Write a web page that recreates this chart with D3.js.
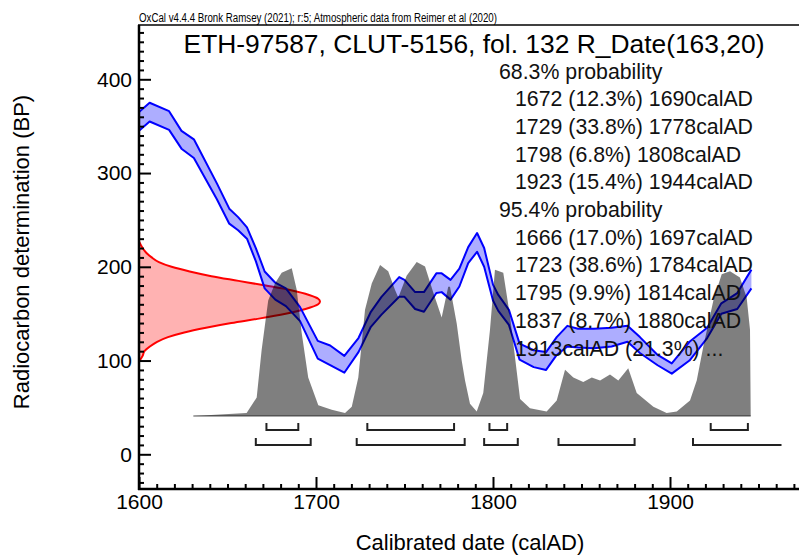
<!DOCTYPE html>
<html><head><meta charset="utf-8">
<script src="https://cdn.jsdelivr.net/npm/d3@7"></script>
<style>
body{margin:0;background:#fff;}
svg{display:block;font-family:"Liberation Sans",Arial,sans-serif;}
</style>
</head><body>
<svg id="chart" width="799" height="558"></svg>
<script>
// ---- Data ----
const headerText = "OxCal v4.4.4 Bronk Ramsey (2021); r:5; Atmospheric data from Reimer et al (2020)";
const titleText = "ETH-97587, CLUT-5156, fol. 132 R_Date(163,20)";
const xLabel = "Calibrated date (calAD)";
const yLabel = "Radiocarbon determination (BP)";

const xTickMajor = [1600, 1700, 1800, 1900];
const yTickMajor = [0, 100, 200, 300, 400];

// Calibration curve (IntCal20) band: year, upper BP, lower BP
const curveYears = [1600,1606,1617,1624,1631,1644,1651,1656,1661,1666,1671,1677,1683,1691,1701,1708,1716,1724,1731,1737,1747,1750,1756,1761,1768,1771,1776,1781,1786,1791,1795,1800,1803,1809,1815,1823,1830,1836,1842,1848,1857,1867,1876,1883,1893,1901,1911,1921,1929,1938,1946];
const curveHigh  = [365,375,366,345,336,289,262,253,242,220,195,183,177,157,121,116,105,124,152,168,189,186,173,173,193,193,186,198,221,236,220,181,170,154,118,111,109,125,137,134,134,135,137,125,106,97,120,135,161,172,197];
const curveLow   = [345,355,346,326,316,272,246,239,230,206,177,165,158,142,102,95,87,109,136,149,168,168,155,152,172,173,165,179,204,216,200,164,153,138,101,93,90,106,115,114,113,115,120,108,95,86,100,124,150,155,177];

// Radiocarbon measurement likelihood (R_Date 163 +/- 20), relative density by BP
const likeBP      = [99,105,110,115,120,125,130,135,140,145,150,155,160,163,166,170,175,180,185,190,195,200,205,210,215,220,227];
const likeDensity = [0.0,0.02,0.03,0.06,0.10,0.16,0.25,0.37,0.51,0.67,0.81,0.92,0.99,1.0,0.99,0.94,0.84,0.70,0.55,0.40,0.28,0.18,0.11,0.07,0.04,0.02,0.0];

// Calibrated (posterior) distribution, relative density by year
const postYears   = [1630.7,1660.8,1666.5,1669.3,1673,1676.8,1680.6,1686.3,1689.1,1691.9,1695.6,1701.3,1708.9,1716.4,1720.2,1723.9,1727.7,1731.5,1736.2,1740.8,1744.6,1746.5,1751.2,1756.9,1761.6,1766.3,1771,1774.7,1775.7,1779.5,1782.3,1784.2,1787,1790.8,1794.5,1798.3,1801.1,1805.8,1809.6,1815.3,1820.9,1830.3,1836,1840.7,1845.4,1851,1855.8,1860.5,1866.1,1870.8,1876.4,1881.2,1890.6,1898.1,1903.8,1911.3,1915.1,1918.8,1924.5,1929.2,1933.9,1939.5,1943.3,1945.2,1945.6];
const postDensity = [0,2,12,43,75,86,93,96,82,54,25,7,4,2,6,25,69,86,98,94,82,77,91,100,97,80,64,84,84,60,36,23,8,3,15,56,95,93,65,11,5,3,10,30,25,22,25,23,27,23,31,15,6,2,3,10,23,45,75,92,94,90,77,56,0];

// Highest posterior density ranges
const range68 = [[1672,1690],[1729,1778],[1798,1808],[1923,1944]];
const range95 = [[1666,1697],[1723,1784],[1795,1814],[1837,1880],[1913,1963]];
const range95Open = [false,false,false,false,true];

// Summary text
const summaryLines = [
  {t:"68.3% probability", indent:false},
  {t:"1672 (12.3%) 1690calAD", indent:true},
  {t:"1729 (33.8%) 1778calAD", indent:true},
  {t:"1798 (6.8%) 1808calAD", indent:true},
  {t:"1923 (15.4%) 1944calAD", indent:true},
  {t:"95.4% probability", indent:false},
  {t:"1666 (17.0%) 1697calAD", indent:true},
  {t:"1723 (38.6%) 1784calAD", indent:true},
  {t:"1795 (9.9%) 1814calAD", indent:true},
  {t:"1837 (8.7%) 1880calAD", indent:true},
  {t:"1913calAD (21.3%) ...", indent:true}
];

// ---- Drawing ----
const W = 799, H = 558;
const svg = d3.select("#chart");
const x = d3.scaleLinear().domain([1600, 1900]).range([139, 670]);
const y = d3.scaleLinear().domain([0, 400]).range([454.3, 79.3]);
const frameTop = 25, frameBottom = 489, frameLeft = x(1600), frameRight = W + 5;

svg.append("defs").append("clipPath").attr("id","plotclip")
  .append("rect").attr("x", frameLeft).attr("y", frameTop)
  .attr("width", frameRight - frameLeft).attr("height", frameBottom - frameTop);

const plot = svg.append("g").attr("clip-path","url(#plotclip)");

// Likelihood (red) on the y axis
const likeW = d3.scaleLinear().domain([0,1]).range([0, 181]);
const likeData = likeBP.map((b,i)=>({b, d: likeDensity[i]}));
plot.append("path")
  .datum(likeData)
  .attr("d", d3.area().curve(d3.curveMonotoneY)
     .y(d=>y(d.b)).x0(frameLeft).x1(d=>frameLeft + likeW(d.d)))
  .attr("fill","rgba(255,0,0,0.3)");
plot.append("path")
  .datum(likeData)
  .attr("d", d3.line().curve(d3.curveMonotoneY).y(d=>y(d.b)).x(d=>frameLeft + likeW(d.d)))
  .attr("fill","none").attr("stroke","#ff0000").attr("stroke-width",2);

// Calibration curve band
const curveData = curveYears.map((yr,i)=>({yr, hi: curveHigh[i], lo: curveLow[i]}));
plot.append("path").datum(curveData)
  .attr("d", d3.area().x(d=>x(d.yr)).y0(d=>y(d.lo)).y1(d=>y(d.hi)))
  .attr("fill","rgba(0,0,255,0.32)");
plot.append("path").datum(curveData)
  .attr("d", d3.line().x(d=>x(d.yr)).y(d=>y(d.hi)))
  .attr("fill","none").attr("stroke","#0000ff").attr("stroke-width",2).attr("stroke-linejoin","round");
plot.append("path").datum(curveData)
  .attr("d", d3.line().x(d=>x(d.yr)).y(d=>y(d.lo)))
  .attr("fill","none").attr("stroke","#0000ff").attr("stroke-width",2).attr("stroke-linejoin","round");

// Posterior (grey)
const postBase = 416;
const postH = d3.scaleLinear().domain([0,100]).range([postBase, postBase - 154]);
const postData = postYears.map((yr,i)=>({yr, p: postDensity[i]}));
plot.append("path").datum(postData)
  .attr("d", d3.area().x(d=>x(d.yr)).y0(postH(0)).y1(d=>postH(d.p)))
  .attr("fill","rgba(0,0,0,0.5)");
plot.append("line")
  .attr("x1", x(postYears[0])).attr("x2", x(postYears[postYears.length-1]))
  .attr("y1", postBase).attr("y2", postBase)
  .attr("stroke","rgba(0,0,0,0.45)").attr("stroke-width",1.5);

// Range brackets
function brackets(ranges, open, yy){
  const g = plot.append("g").attr("stroke","#222").attr("stroke-width",2).attr("fill","none");
  ranges.forEach((r,i)=>{
    const p = d3.path();
    p.moveTo(x(r[0]), yy-7); p.lineTo(x(r[0]), yy); p.lineTo(x(r[1]), yy);
    if(!open[i]) p.lineTo(x(r[1]), yy-7);
    g.append("path").attr("d", p.toString());
  });
}
brackets(range68, range68.map(()=>false), 430);
brackets(range95, range95Open, 445);

// Axes
const xMinor = d3.range(1600, 1980, 10).filter(v=>!xTickMajor.includes(v));
const yMinor = d3.range(-30, 460, 10).filter(v=>!yTickMajor.includes(v));

const xAxisMinor = d3.axisBottom(x).tickValues(xMinor).tickSize(-5).tickFormat("").tickSizeOuter(0);
const xAxisMajor = d3.axisBottom(x).tickValues(xTickMajor).tickSize(-12).tickPadding(5).tickFormat(d3.format("d")).tickSizeOuter(0);
const gxm = svg.append("g").attr("transform",`translate(0,${frameBottom})`).call(xAxisMinor);
const gx = svg.append("g").attr("transform",`translate(0,${frameBottom})`).call(xAxisMajor);
[gxm,gx].forEach(g=>{ g.select(".domain").remove(); g.selectAll("line").attr("stroke","#000").attr("stroke-width",2); });
gx.selectAll("text").attr("font-size",21).attr("fill","#000").attr("font-family","Liberation Sans, Arial, sans-serif");

const yAxisMinor = d3.axisLeft(y).tickValues(yMinor).tickSize(-5).tickFormat("").tickSizeOuter(0);
const yAxisMajor = d3.axisLeft(y).tickValues(yTickMajor).tickSize(-12).tickPadding(7).tickFormat(d3.format("d")).tickSizeOuter(0);
const gym = svg.append("g").attr("transform",`translate(${frameLeft},0)`).call(yAxisMinor);
const gy = svg.append("g").attr("transform",`translate(${frameLeft},0)`).call(yAxisMajor);
[gym,gy].forEach(g=>{ g.select(".domain").remove(); g.selectAll("line").attr("stroke","#000").attr("stroke-width",2); });
gy.selectAll("text").attr("font-size",21).attr("fill","#000").attr("font-family","Liberation Sans, Arial, sans-serif");

// Frame lines
svg.append("line").attr("x1",frameLeft).attr("x2",frameLeft).attr("y1",frameTop).attr("y2",frameBottom+1)
  .attr("stroke","#000").attr("stroke-width",2.5);
svg.append("line").attr("x1",frameLeft-1).attr("x2",frameRight).attr("y1",frameBottom).attr("y2",frameBottom)
  .attr("stroke","#000").attr("stroke-width",2.5);
svg.append("line").attr("x1",frameLeft-1).attr("x2",frameRight).attr("y1",frameTop).attr("y2",frameTop)
  .attr("stroke","#000").attr("stroke-width",1.5);

// Texts
svg.append("text").attr("x",frameLeft).attr("y",22).attr("font-size",12)
  .attr("textLength",358).attr("lengthAdjust","spacingAndGlyphs").text(headerText);
svg.append("text").attr("x",474).attr("y",53).attr("font-size",26.4).attr("text-anchor","middle").text(titleText);

svg.append("g").selectAll("text").data(summaryLines).join("text")
  .attr("x", d=> d.indent ? 515 : 499)
  .attr("y", (d,i)=> 78.5 + i*27.7)
  .attr("font-size", 21.3)
  .attr("fill","#111")
  .text(d=>d.t);

svg.append("text").attr("x",470).attr("y",550).attr("font-size",22).attr("text-anchor","middle").text(xLabel);
svg.append("text").attr("transform","translate(29,252) rotate(-90)").attr("font-size",22)
  .attr("text-anchor","middle").text(yLabel);
</script>
</body></html>
